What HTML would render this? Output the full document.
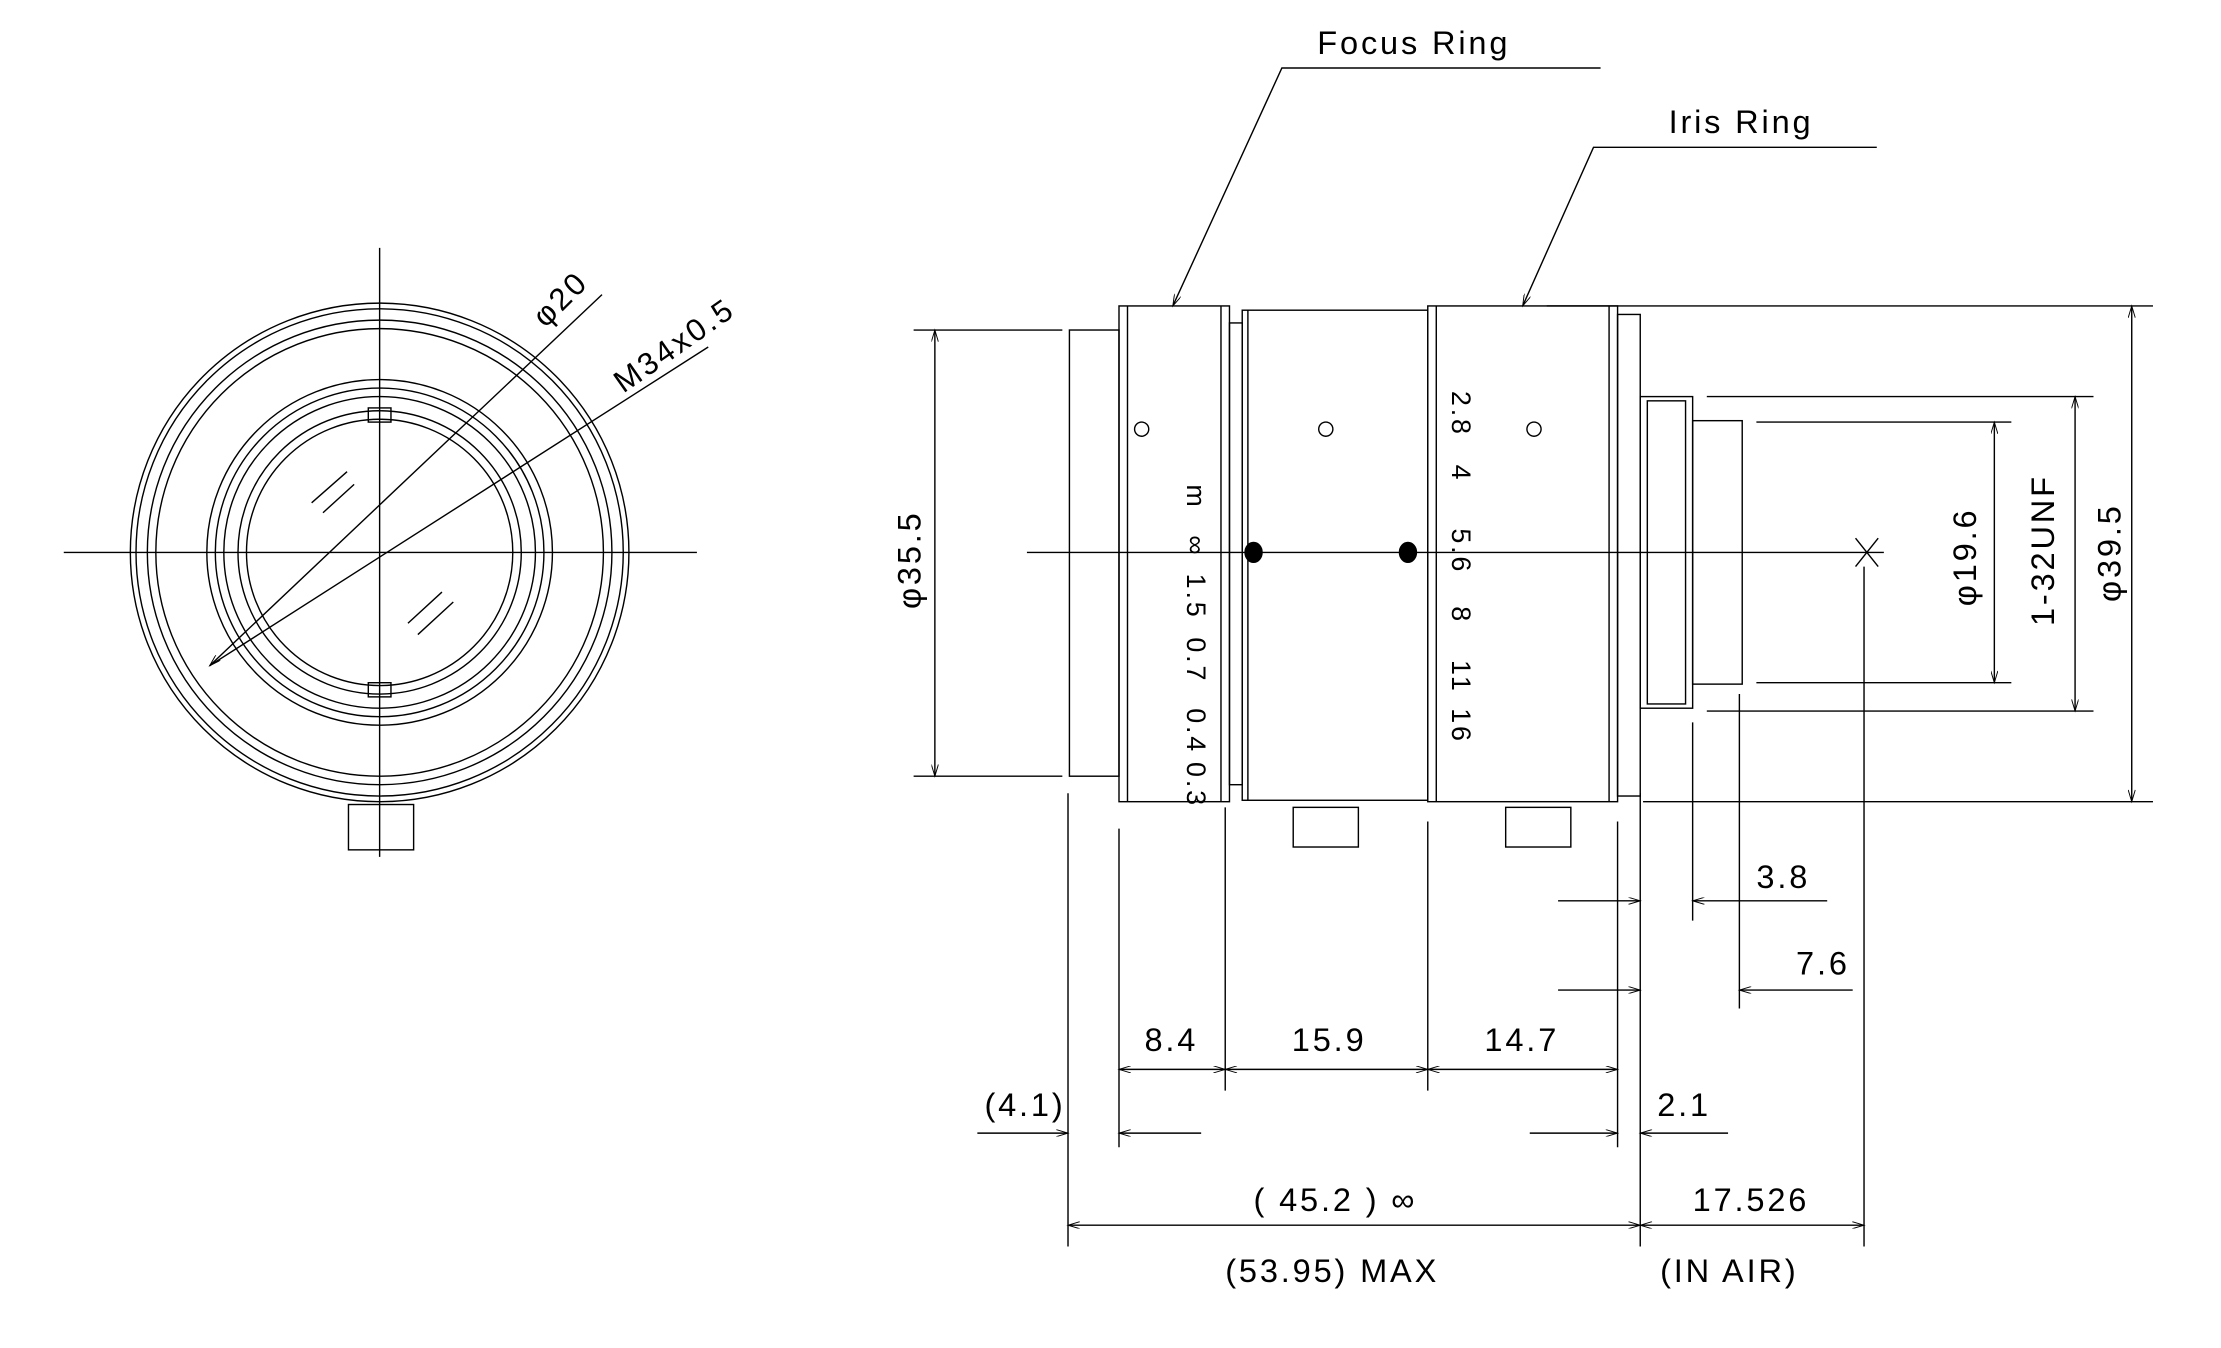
<!DOCTYPE html>
<html><head><style>html,body{margin:0;padding:0;background:#fff}svg{display:block}text{font-family:"Liberation Sans Narrow","Liberation Sans",sans-serif;fill:#000;stroke:none;letter-spacing:2px}</style></head><body>
<svg width="2221" height="1348" viewBox="0 0 1568 951.7" xmlns="http://www.w3.org/2000/svg" stroke="#000" fill="none" stroke-width="1">
<defs><marker id="a" viewBox="0 0 10 6" refX="10" refY="3" markerWidth="12" markerHeight="5" orient="auto-start-reverse" markerUnits="userSpaceOnUse"><path d="M0,0 L10,3 L0,6" stroke-width="0.8"/></marker></defs>
<!-- LEFT VIEW -->
<g>
<circle cx="268" cy="390" r="176"/><circle cx="268" cy="390" r="172"/><circle cx="268" cy="390" r="164"/><circle cx="268" cy="390" r="158"/>
<circle cx="268" cy="390" r="122"/><circle cx="268" cy="390" r="116"/><circle cx="268" cy="390" r="110"/><circle cx="268" cy="390" r="100"/><circle cx="268" cy="390" r="94"/>
<line x1="45" y1="390" x2="492" y2="390"/><line x1="268" y1="175" x2="268" y2="605"/>
<rect x="260" y="288" width="16" height="10"/><rect x="260" y="482" width="16" height="10"/>
<rect x="246" y="568" width="46" height="32"/>
<line x1="148" y1="470" x2="425" y2="208" marker-start="url(#a)"/>
<line x1="148" y1="470" x2="500" y2="245" />
<line x1="220" y1="355" x2="245" y2="333"/><line x1="228" y1="362" x2="250" y2="342"/>
<line x1="288" y1="440" x2="312" y2="418"/><line x1="295" y1="448" x2="320" y2="425"/>
<text font-size="22" transform="translate(385,232) rotate(-45)">φ20</text>
<text font-size="22" transform="translate(440,278) rotate(-35)">M34x0.5</text>
</g>
<!-- RIGHT VIEW -->
<g>
<line x1="725" y1="390" x2="1330" y2="390"/>
<rect x="755" y="233" width="35" height="315"/>
<rect x="790" y="216" width="78" height="350"/><line x1="796" y1="216" x2="796" y2="566"/><line x1="862" y1="216" x2="862" y2="566"/>
<rect x="868" y="228" width="9" height="326"/>
<rect x="877" y="219" width="131" height="346"/><line x1="881" y1="219" x2="881" y2="565"/>
<rect x="1008" y="216" width="134" height="350"/><line x1="1014" y1="216" x2="1014" y2="566"/><line x1="1136" y1="216" x2="1136" y2="566"/>
<rect x="1142" y="222" width="16" height="340"/>
<rect x="1158" y="280" width="37" height="220"/><rect x="1163" y="283" width="27" height="214"/>
<rect x="1195" y="297" width="35" height="186"/>
<circle cx="806" cy="303" r="5"/><circle cx="936" cy="303" r="5"/><circle cx="1083" cy="303" r="5"/>
<ellipse cx="885" cy="390" rx="6" ry="7" fill="#000"/><ellipse cx="994" cy="390" rx="6" ry="7" fill="#000"/>
<rect x="913" y="570" width="46" height="28"/><rect x="1063" y="570" width="46" height="28"/>
<line x1="1310" y1="380" x2="1326" y2="400"/><line x1="1326" y1="380" x2="1310" y2="400"/>
<g font-size="19">
<text transform="translate(838,342) rotate(90)">m</text>
<text transform="translate(838,378) rotate(90)">∞</text>
<text transform="translate(838,405) rotate(90)">1.5</text>
<text transform="translate(838,450) rotate(90)">0.7</text>
<text transform="translate(838,500) rotate(90)">0.4</text>
<text transform="translate(838,538) rotate(90)">0.3</text>
<text transform="translate(1025,276) rotate(90)">2.8</text>
<text transform="translate(1025,328) rotate(90)">4</text>
<text transform="translate(1025,373) rotate(90)">5.6</text>
<text transform="translate(1025,428) rotate(90)">8</text>
<text transform="translate(1025,466) rotate(90)">11</text>
<text transform="translate(1025,500) rotate(90)">16</text>
</g>
<polyline points="1130,48 905,48 828,216" marker-end="url(#a)"/><text x="930" y="38" font-size="23">Focus Ring</text>
<polyline points="1325,104 1125,104 1075,216" marker-end="url(#a)"/><text x="1178" y="94" font-size="23">Iris Ring</text>
<line x1="645" y1="233" x2="750" y2="233"/><line x1="645" y1="548" x2="750" y2="548"/>
<line x1="660" y1="233" x2="660" y2="548" marker-start="url(#a)" marker-end="url(#a)"/>
<text transform="translate(650,430) rotate(-90)" font-size="23">φ35.5</text>
<line x1="1092" y1="216" x2="1520" y2="216"/><line x1="1160" y1="566" x2="1520" y2="566"/>
<line x1="1505" y1="216" x2="1505" y2="566" marker-start="url(#a)" marker-end="url(#a)"/>
<text transform="translate(1497,425) rotate(-90)" font-size="23">φ39.5</text>
<line x1="1205" y1="280" x2="1478" y2="280"/><line x1="1205" y1="502" x2="1478" y2="502"/>
<line x1="1465" y1="280" x2="1465" y2="502" marker-start="url(#a)" marker-end="url(#a)"/>
<text transform="translate(1450,442) rotate(-90)" font-size="23">1-32UNF</text>
<line x1="1240" y1="298" x2="1420" y2="298"/><line x1="1240" y1="482" x2="1420" y2="482"/>
<line x1="1408" y1="298" x2="1408" y2="482" marker-start="url(#a)" marker-end="url(#a)"/>
<text transform="translate(1395,428) rotate(-90)" font-size="23">φ19.6</text>
<line x1="754" y1="560" x2="754" y2="880"/><line x1="790" y1="585" x2="790" y2="810"/><line x1="865" y1="570" x2="865" y2="770"/>
<line x1="1008" y1="580" x2="1008" y2="770"/><line x1="1142" y1="580" x2="1142" y2="810"/><line x1="1158" y1="560" x2="1158" y2="880"/>
<line x1="1195" y1="510" x2="1195" y2="650"/><line x1="1228" y1="490" x2="1228" y2="712"/><line x1="1316" y1="400" x2="1316" y2="880"/>
<line x1="1100" y1="636" x2="1158" y2="636" marker-end="url(#a)"/><line x1="1290" y1="636" x2="1195" y2="636" marker-end="url(#a)"/><text x="1240" y="627" font-size="23">3.8</text>
<line x1="1100" y1="699" x2="1158" y2="699" marker-end="url(#a)"/><line x1="1308" y1="699" x2="1228" y2="699" marker-end="url(#a)"/><text x="1268" y="688" font-size="23">7.6</text>
<line x1="790" y1="755" x2="865" y2="755" marker-start="url(#a)" marker-end="url(#a)"/><text x="808" y="742" font-size="23">8.4</text>
<line x1="865" y1="755" x2="1008" y2="755" marker-start="url(#a)" marker-end="url(#a)"/><text x="912" y="742" font-size="23">15.9</text>
<line x1="1008" y1="755" x2="1142" y2="755" marker-start="url(#a)" marker-end="url(#a)"/><text x="1048" y="742" font-size="23">14.7</text>
<line x1="690" y1="800" x2="754" y2="800" marker-end="url(#a)"/><line x1="848" y1="800" x2="790" y2="800" marker-end="url(#a)"/><text x="695" y="788" font-size="23">(4.1)</text>
<line x1="1080" y1="800" x2="1142" y2="800" marker-end="url(#a)"/><line x1="1220" y1="800" x2="1158" y2="800" marker-end="url(#a)"/><text x="1170" y="788" font-size="23">2.1</text>
<line x1="754" y1="865" x2="1158" y2="865" marker-start="url(#a)" marker-end="url(#a)"/>
<text x="885" y="855" font-size="23">( 45.2 ) ∞</text>
<text x="865" y="905" font-size="23">(53.95) MAX</text>
<line x1="1158" y1="865" x2="1316" y2="865" marker-start="url(#a)" marker-end="url(#a)"/>
<text x="1195" y="855" font-size="23">17.526</text>
<text x="1172" y="905" font-size="23">(IN AIR)</text>
</g>
</svg>
</body></html>
